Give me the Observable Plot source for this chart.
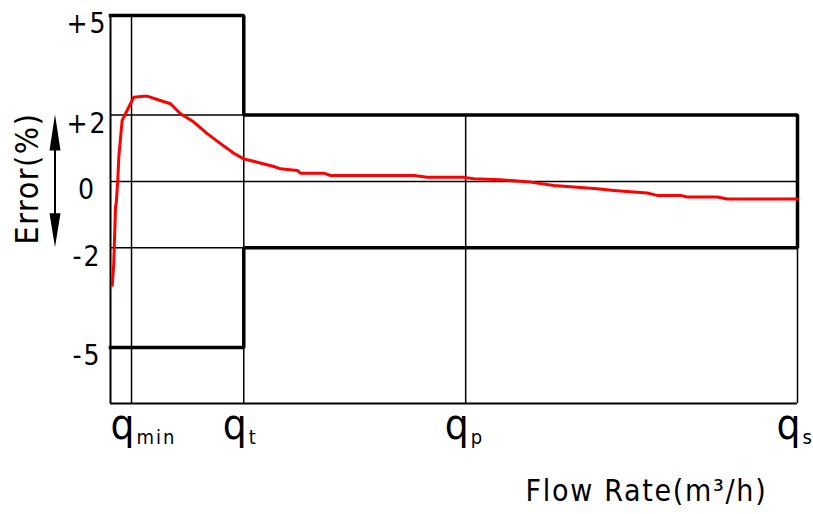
<!DOCTYPE html>
<html><head><meta charset="utf-8">
<script src="https://cdn.jsdelivr.net/npm/d3@7"></script>
<script src="https://cdn.jsdelivr.net/npm/@observablehq/plot@0.6"></script>
<style>body{margin:0;background:#fff} svg{display:block}</style>
</head><body><div id="chart"></div>
<script>
// Flow positions (relative flow, qs = 100)
const qNames = ["min", "t", "p", "s"];
const qPos = [3.06, 19.4, 51.7, 100];
const qGridTop = [5, 5, 2, 2];
// Error axis
const yTickValues = [5, 2, 0, -2, -5];
const yTickLabels = ["+5", "+2", "0", "-2", "-5"];
const yMin = -6.69, yMax = 5;
const hGrid = [2, 0, -2];
// Tolerance envelope (MPE limits)
const tolFlow = [0, 19.4, 19.4, 100, 100, 19.4, 19.4, 0];
const tolErr = [5, 5, 2, 2, -2, -2, -5, -5];
// Measured error curve
const flow = [0.25, 0.48, 0.48, 0.73, 0.83, 1.06, 1.21, 1.56, 1.70, 2.18, 2.91, 3.39, 4.85, 5.34, 6.80, 8.73, 10.19, 12.13, 14.08, 16.01, 17.95, 19.40, 21.35, 23.77, 24.75, 27.18, 27.66, 31.05, 32.02, 44.15, 46.10, 51.19, 52.88, 56.77, 61.14, 64.53, 70.84, 73.26, 78.12, 79.58, 82.97, 83.94, 88.31, 89.77, 98.98, 100];
const error = [-3.13, -2.47, -2.43, -0.77, -0.66, 0.03, 0.73, 1.54, 1.84, 2.04, 2.34, 2.54, 2.57, 2.57, 2.47, 2.34, 2.04, 1.79, 1.44, 1.14, 0.85, 0.68, 0.58, 0.45, 0.38, 0.33, 0.25, 0.25, 0.18, 0.18, 0.13, 0.13, 0.08, 0.05, -0.02, -0.12, -0.22, -0.27, -0.35, -0.42, -0.42, -0.47, -0.47, -0.53, -0.53, -0.53];
const yTitle = "Error(%)";
const xTitle = "Flow Rate(m³/h)";

const font = "'DejaVu Sans Condensed', 'DejaVu Sans', sans-serif";
const qi = d3.range(qPos.length);
const ti = d3.range(tolFlow.length);
const ci = d3.range(flow.length);
const yi = d3.range(yTickValues.length);

const plot = Plot.plot({
  width: 813, height: 514,
  marginLeft: 110, marginRight: 16, marginTop: 15, marginBottom: 111,
  x: {domain: [0, 100], axis: null},
  y: {domain: [yMin, yMax], axis: null},
  style: {fontFamily: font, background: "#fff", color: "#000", overflow: "visible"},
  marks: [
    Plot.ruleX(qi, {x: i => qPos[i], y1: yMin, y2: i => qGridTop[i], stroke: "#000", strokeWidth: 1.5}),
    Plot.ruleY(hGrid, {y: d => d, x1: 0, x2: 100, stroke: "#000", strokeWidth: 1.5}),
    Plot.ruleX([0], {x: d => d, y1: yMin, y2: yMax, stroke: "#000", strokeWidth: 2}),
    Plot.ruleY([yMin], {y: d => d, x1: 0, x2: 100, stroke: "#000", strokeWidth: 2}),
    Plot.line(ti, {x: i => tolFlow[i], y: i => tolErr[i], stroke: "#000", strokeWidth: 3.5, strokeLinejoin: "miter", strokeLinecap: "square"}),
    Plot.line(ci, {x: i => flow[i], y: i => error[i], stroke: "#ff0000", strokeWidth: 3, strokeLinejoin: "round"}),
    Plot.text(yi, {y: i => yTickValues[i], text: i => yTickLabels[i], frameAnchor: "left", dx: -23.5, dy: 9, textAnchor: "middle", fontSize: 28, fill: "#000"}),
    Plot.text(qi, {x: i => qPos[i], text: () => "q", frameAnchor: "bottom", dy: 35, dx: 3, lineAnchor: "bottom", textAnchor: "end", fontSize: 42, fill: "#000"}),
    Plot.text(qi, {x: i => qPos[i], text: i => qNames[i], frameAnchor: "bottom", dy: 40, dx: 5, lineAnchor: "bottom", textAnchor: "start", fontSize: 20, fill: "#000"}),
    Plot.text([yTitle], {text: d => d, frameAnchor: "top-left", dx: -73, dy: 163, rotate: -90, textAnchor: "middle", lineAnchor: "bottom", fontSize: 32, fill: "#000"}),
    Plot.text([xTitle], {text: d => d, frameAnchor: "bottom-left", dx: 415, dy: 97, textAnchor: "start", lineAnchor: "bottom", fontSize: 30, fill: "#000"})
  ]
});

const svg = d3.select(plot);
const spacing = new Map([[xTitle, "1.7px"], [yTitle, "1.5px"], ...qNames.map(n => [n, "2px"]), ...yTickLabels.map(n => [n, "2px"])]);
svg.selectAll("text").each(function () {
  const s = spacing.get(this.textContent);
  if (s) this.setAttribute("letter-spacing", s);
});

// Double-headed arrow beside the Error title, spanning ±2
const ys = plot.scale("y");
const ax = 55, yTop = ys.apply(2), yBot = ys.apply(-2);
const g = svg.append("g").attr("fill", "#000").attr("stroke", "#000");
g.append("line").attr("x1", ax).attr("x2", ax).attr("y1", yTop + 10).attr("y2", yBot - 10).attr("stroke-width", 2);
g.append("path").attr("stroke", "none").attr("d", `M${ax},${yTop} L${ax - 5.5},${yTop + 36} L${ax + 5.5},${yTop + 36} Z`);
g.append("path").attr("stroke", "none").attr("d", `M${ax},${yBot} L${ax - 5.5},${yBot - 34} L${ax + 5.5},${yBot - 34} Z`);

document.getElementById("chart").appendChild(plot);
</script></body></html>
